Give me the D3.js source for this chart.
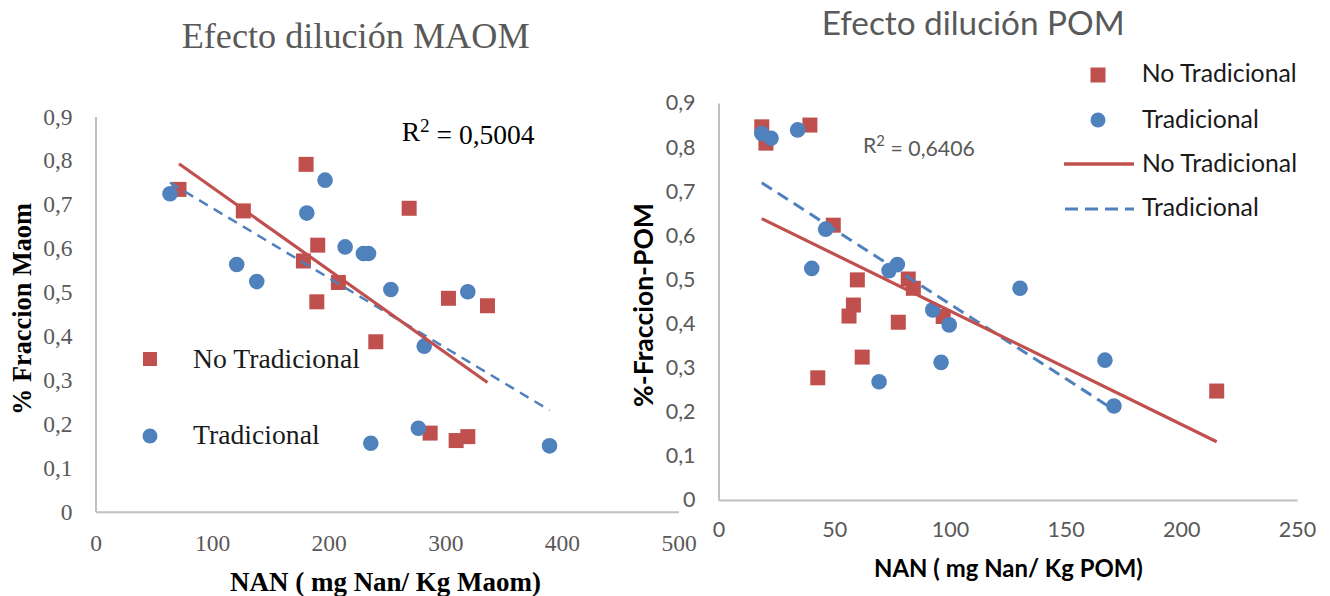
<!DOCTYPE html>
<html>
<head>
<meta charset="utf-8">
<script src="https://cdn.jsdelivr.net/npm/d3@7"></script>
<style>
  html, body { margin: 0; padding: 0; background: #fff; }
  svg { display: block; }
</style>
</head>
<body>
<svg id="chart" width="1330" height="596"></svg>
<script>
// ---- MAOM panel data: NAN (mg Nan / Kg Maom) vs % fraction ----
const maomNoTradX = [71.6, 126.8, 180.6, 190.6, 178.3, 208.3, 269.0, 189.8, 302.7, 336.2, 240.4, 287.0, 309.3, 319.3];
const maomNoTradY = [0.734, 0.685, 0.791, 0.607, 0.571, 0.522, 0.691, 0.478, 0.486, 0.469, 0.387, 0.179, 0.162, 0.171];
const maomTradX = [63.9, 121.1, 138.3, 181.2, 196.9, 214.1, 229.8, 234.1, 253.3, 319.3, 281.9, 276.9, 236.1, 389.4];
const maomTradY = [0.724, 0.563, 0.524, 0.680, 0.755, 0.603, 0.588, 0.588, 0.506, 0.501, 0.377, 0.190, 0.156, 0.150];
// linear trend (slope, intercept)
const maomNoTradTrend = [-0.001882, 0.927];
const maomTradTrend = [-0.001592, 0.851];
const maomR2 = "0,5004";

// ---- POM panel data: NAN (mg Nan / Kg POM) vs % fraction ----
const pomNoTradX = [18.7, 20.5, 39.5, 49.6, 60.0, 58.3, 82.0, 84.2, 56.4, 77.7, 62.1, 42.9, 97.1, 215.3];
const pomNoTradY = [0.846, 0.809, 0.850, 0.623, 0.499, 0.442, 0.501, 0.480, 0.417, 0.403, 0.324, 0.277, 0.416, 0.247];
const pomTradX = [18.7, 22.7, 34.2, 46.3, 40.3, 73.7, 77.3, 92.6, 99.7, 96.2, 69.4, 130.3, 167.0, 170.9];
const pomTradY = [0.831, 0.820, 0.839, 0.614, 0.525, 0.520, 0.534, 0.431, 0.397, 0.312, 0.268, 0.480, 0.317, 0.213];
const pomNoTradTrend = [-0.002573, 0.686];
const pomTradTrend = [-0.003382, 0.7825];
const pomR2 = "0,6406";

const yTicks = [0, 0.1, 0.2, 0.3, 0.4, 0.5, 0.6, 0.7, 0.8, 0.9];
const maomXTicks = [0, 100, 200, 300, 400, 500];
const pomXTicks = [0, 50, 100, 150, 200, 250];
const seriesNames = ["No Tradicional", "Tradicional"];

const RED = "#C0504D", BLUE = "#4F81BD", AXIS = "#BFBFBF", GREY = "#595959";
const SERIF = "'Liberation Serif', 'DejaVu Serif', serif";
const SANS = "Lato, 'Open Sans', sans-serif";

const svg = d3.select("#chart");
const comma = v => d3.format("")(+v.toFixed(1)).replace(".", ",");

// scale a text's font size so its rendered width equals w
function fit(sel, w) {
  const fs = parseFloat(sel.attr("font-size"));
  const len = sel.node().getComputedTextLength();
  sel.attr("font-size", fs * w / len);
  return fs * w / len;
}

function zip(xs, ys) { return xs.map((x, i) => ({x, y: ys[i]})); }

function panel(cfg) {
  const g = svg.append("g");
  const x = d3.scaleLinear().domain(cfg.xDomain).range(cfg.xRange);
  const y = d3.scaleLinear().domain([0, 0.9]).range(cfg.yRange);

  // axes: plain lines with labels, no tick marks
  const ax = g.append("g").attr("transform", `translate(0,${cfg.yRange[0]})`)
    .call(d3.axisBottom(x).tickValues(cfg.xTicks).tickSize(0).tickPadding(cfg.xPad).tickFormat(d3.format("d")));
  const ay = g.append("g").attr("transform", `translate(${cfg.xRange[0]},0)`)
    .call(d3.axisLeft(y).tickValues(yTicks).tickSize(0).tickPadding(cfg.yPad).tickFormat(comma));
  [ax, ay].forEach(a => {
    a.select(".domain").attr("stroke", AXIS).attr("stroke-width", 2);
    a.selectAll("text").attr("fill", GREY).attr("font-family", cfg.font).attr("font-size", cfg.tickSize);
  });

  // scatter markers
  const nt = zip(cfg.ntX, cfg.ntY), tr = zip(cfg.tX, cfg.tY);
  g.append("g").selectAll("rect").data(nt).join("rect")
    .attr("x", d => x(d.x) - 7.5).attr("y", d => y(d.y) - 7.5)
    .attr("width", 15).attr("height", 15).attr("fill", RED);
  g.append("g").selectAll("circle").data(tr).join("circle")
    .attr("cx", d => x(d.x)).attr("cy", d => y(d.y)).attr("r", 7.8).attr("fill", BLUE);

  // trend lines over the data range of each series
  const trend = (xs, c) => {
    const e = d3.extent(xs);
    return e.map(v => ({x: v, y: c[0] * v + c[1]}));
  };
  const line = d3.line().x(d => x(d.x)).y(d => y(d.y));
  g.append("path").attr("d", line(trend(cfg.tX, cfg.tTrend))).attr("fill", "none")
    .attr("stroke", BLUE).attr("stroke-width", cfg.dashW).attr("stroke-dasharray", cfg.dash);
  g.append("path").attr("d", line(trend(cfg.ntX, cfg.ntTrend))).attr("fill", "none")
    .attr("stroke", RED).attr("stroke-width", 3.2);
  return g;
}

// ---------- MAOM ----------
const gm = panel({
  xDomain: [0, 500], xRange: [95.5, 678.5], yRange: [511.7, 116.5],
  xTicks: maomXTicks, ntX: maomNoTradX, ntY: maomNoTradY, tX: maomTradX, tY: maomTradY,
  ntTrend: maomNoTradTrend, tTrend: maomTradTrend,
  font: SERIF, tickSize: 23.5, xPad: 23, yPad: 23, dash: "10,7", dashW: 2.5
});
fit(gm.append("text").attr("x", 181.7).attr("y", 48).attr("font-family", SERIF).attr("font-size", 30)
  .attr("fill", GREY).text("Efecto dilución MAOM"), 348);
fit(gm.append("text").attr("transform", "translate(22,309) rotate(-90)").attr("text-anchor", "middle")
  .attr("dominant-baseline", "central").attr("font-family", SERIF).attr("font-weight", "bold")
  .attr("font-size", 20).attr("fill", "#000").text("% Fraccion Maom"), 212);
fit(gm.append("text").attr("x", 385.5).attr("y", 582).attr("text-anchor", "middle")
  .attr("dominant-baseline", "central").attr("font-family", SERIF).attr("font-weight", "bold")
  .attr("font-size", 20).attr("fill", "#000").text("NAN ( mg Nan/ Kg Maom)"), 311);
const r2m = gm.append("text").attr("x", 401.7).attr("y", 140.7).attr("font-family", SERIF)
  .attr("font-size", 22).attr("fill", "#000");
r2m.append("tspan").text("R");
r2m.append("tspan").attr("dy", "-0.45em").attr("font-size", "70%").text("2");
r2m.append("tspan").attr("dy", "0.45em").text(" = " + maomR2);
fit(r2m, 133);

// legend inside the MAOM plot
gm.append("rect").attr("x", 143).attr("y", 352).attr("width", 14).attr("height", 14).attr("fill", RED);
gm.append("circle").attr("cx", 150).attr("cy", 436).attr("r", 7.5).attr("fill", BLUE);
const lm1 = gm.append("text").attr("x", 193).attr("y", 368).attr("font-family", SERIF)
  .attr("font-size", 20).attr("fill", "#1a1a1a").text(seriesNames[0]);
const lmSize = fit(lm1, 167);
gm.append("text").attr("x", 193).attr("y", 444).attr("font-family", SERIF)
  .attr("font-size", lmSize).attr("fill", "#1a1a1a").text(seriesNames[1]);

// ---------- POM ----------
const gp = panel({
  xDomain: [0, 250], xRange: [718.5, 1297], yRange: [500, 103],
  xTicks: pomXTicks, ntX: pomNoTradX, ntY: pomNoTradY, tX: pomTradX, tY: pomTradY,
  ntTrend: pomNoTradTrend, tTrend: pomTradTrend,
  font: SANS, tickSize: 21.5, xPad: 22, yPad: 23, dash: "12,7", dashW: 3
});
fit(gp.append("text").attr("x", 821.7).attr("y", 35).attr("font-family", SANS).attr("font-size", 30)
  .attr("fill", GREY).text("Efecto dilución POM"), 303);
fit(gp.append("text").attr("transform", "translate(643,305) rotate(-90)").attr("text-anchor", "middle")
  .attr("dominant-baseline", "central").attr("font-family", SANS).attr("font-weight", "bold")
  .attr("font-size", 19).attr("fill", "#000").text("%-Fraccion-POM"), 204);
fit(gp.append("text").attr("x", 1008.5).attr("y", 567).attr("text-anchor", "middle")
  .attr("dominant-baseline", "central").attr("font-family", SANS).attr("font-weight", "bold")
  .attr("font-size", 20).attr("fill", "#000").text("NAN ( mg Nan/ Kg POM)"), 269);
const r2p = gp.append("text").attr("x", 863).attr("y", 152.7).attr("font-family", SANS)
  .attr("font-size", 20).attr("fill", GREY);
r2p.append("tspan").text("R");
r2p.append("tspan").attr("dy", "-0.45em").attr("font-size", "70%").text("2");
r2p.append("tspan").attr("dy", "0.45em").text(" = " + pomR2);
fit(r2p, 112);

// legend to the right of the POM plot
gp.append("rect").attr("x", 1090.5).attr("y", 67.5).attr("width", 15).attr("height", 15).attr("fill", RED);
gp.append("circle").attr("cx", 1098).attr("cy", 120).attr("r", 7.5).attr("fill", BLUE);
gp.append("line").attr("x1", 1064).attr("x2", 1134).attr("y1", 164).attr("y2", 164)
  .attr("stroke", RED).attr("stroke-width", 3.5);
gp.append("line").attr("x1", 1065).attr("x2", 1134).attr("y1", 209).attr("y2", 209)
  .attr("stroke", BLUE).attr("stroke-width", 3).attr("stroke-dasharray", "13,7");
const lp1 = gp.append("text").attr("x", 1141.7).attr("y", 81.7).attr("font-family", SANS)
  .attr("font-size", 22).attr("fill", "#1a1a1a").text(seriesNames[0]);
const lpSize = fit(lp1, 155);
[[seriesNames[1], 127.7], [seriesNames[0], 171.7], [seriesNames[1], 216]].forEach(([t, yy]) => {
  gp.append("text").attr("x", 1142).attr("y", yy).attr("font-family", SANS)
    .attr("font-size", lpSize).attr("fill", "#1a1a1a").text(t);
});
</script>
</body>
</html>
